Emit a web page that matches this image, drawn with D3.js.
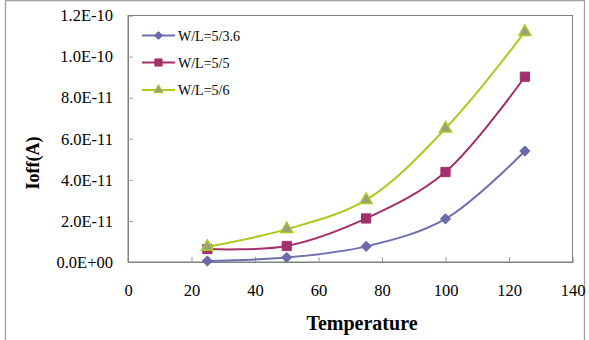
<!DOCTYPE html>
<html><head><meta charset="utf-8">
<script src="https://cdn.jsdelivr.net/npm/d3@7"></script>
<style>body{margin:0;background:#fff}svg{display:block}</style>
</head><body>
<script>
const temps = [25, 50, 75, 100, 125];
const seriesNames = ["W/L=5/3.6", "W/L=5/5", "W/L=5/6"];
const ioff_36 = [0.05e-11, 0.22e-11, 0.76e-11, 2.1e-11, 5.4e-11];
const ioff_5 = [0.63e-11, 0.78e-11, 2.12e-11, 4.38e-11, 9.02e-11];
const ioff_6 = [0.74e-11, 1.6e-11, 3.02e-11, 6.5e-11, 11.2e-11];
const xTicks = [0, 20, 40, 60, 80, 100, 120, 140];
const yTicks = [0, 2e-11, 4e-11, 6e-11, 8e-11, 1e-10, 1.2e-10];
const yTickLabels = ["0.0E+00", "2.0E-11", "4.0E-11", "6.0E-11", "8.0E-11", "1.0E-10", "1.2E-10"];

const W = 589, H = 340;
const FONT = '"Liberation Serif", "Times New Roman", serif';
const svg = d3.select("body").append("svg").attr("width", W).attr("height", H);

// outer border
svg.append("path").attr("d", `M5.5,345V0.5H584.5V345`).attr("fill", "none").attr("stroke", "#a0a0a0").attr("stroke-width", 1.3);

const L = 128, R = 572.5, T = 15.5, B = 262;
const x = d3.scaleLinear().domain([0, 140]).range([L, R]);
const y = d3.scaleLinear().domain([0, 1.2e-10]).range([B, T]);

// plot frame
svg.append("rect").attr("x", L).attr("y", T).attr("width", R - L).attr("height", B - T)
  .attr("fill", "none").attr("stroke", "#808080").attr("stroke-width", 1);

// axes with inward ticks
const xAxis = svg.append("g").attr("transform", `translate(0,${B})`)
  .call(d3.axisBottom(x).tickValues(xTicks).tickSize(-5).tickPadding(22).tickFormat(d3.format("d")));
const yAxis = svg.append("g").attr("transform", `translate(${L},0)`)
  .call(d3.axisLeft(y).tickValues(yTicks).tickSize(-5).tickPadding(15).tickFormat((d, i) => yTickLabels[i]));
[xAxis, yAxis].forEach(g => {
  g.attr("font-family", null).attr("font-size", null);
  g.select(".domain").attr("stroke", "#808080");
  g.selectAll(".tick line").attr("stroke", "#a0a0a0");
  g.selectAll("text").style("font-family", FONT).style("font-size", "16.5px").attr("fill", "#000");
});
xAxis.selectAll(".tick").filter(d => d === 0 || d === 140).select("line").remove();
yAxis.selectAll(".tick").filter((d, i) => i === 0 || i === yTicks.length - 1).select("line").remove();

// axis titles
svg.append("text").attr("x", 362).attr("y", 330).attr("text-anchor", "middle")
  .style("font-family", FONT).style("font-weight", "bold").style("font-size", "20px").text("Temperature");
svg.append("text").attr("transform", "translate(39,163) rotate(-90)").attr("text-anchor", "middle")
  .style("font-family", FONT).style("font-weight", "bold").style("font-size", "18px").text("Ioff(A)");

const series = [
  {name: seriesNames[0], vals: ioff_36, line: "#6f6fb0", fill: "#6a6aae", marker: "diamond"},
  {name: seriesNames[1], vals: ioff_5, line: "#a3306a", fill: "#a3306a", marker: "square"},
  {name: seriesNames[2], vals: ioff_6, line: "#a8cc1e", fill: "#9c9c86", marker: "triangle"}
];
const diamond = {draw(ctx, s) { const r = Math.sqrt(s / 2); ctx.moveTo(0, -r); ctx.lineTo(r, 0); ctx.lineTo(0, r); ctx.lineTo(-r, 0); ctx.closePath(); }};
const sym = {diamond: diamond, square: d3.symbolSquare, triangle: d3.symbolTriangle};
const size = {diamond: 52, square: 85, triangle: 62};

const line = d3.line().x(d => x(d[0])).y(d => y(d[1])).curve(d3.curveCatmullRom.alpha(0.5));

series.forEach(s => {
  const pts = temps.map((t, i) => [t, s.vals[i]]);
  svg.append("path").attr("d", line(pts)).attr("fill", "none").attr("stroke", s.line).attr("stroke-width", 2);
  svg.selectAll(null).data(pts).enter().append("path")
    .attr("d", d3.symbol().type(sym[s.marker]).size(size[s.marker]))
    .attr("transform", d => `translate(${x(d[0])},${y(d[1])})`)
    .attr("fill", s.fill).attr("stroke", s.marker === "triangle" ? s.line : s.fill)
    .attr("stroke-width", s.marker === "triangle" ? 1.5 : 1);
});

// legend
const legY = [35.5, 62.5, 90];
series.forEach((s, i) => {
  const g = svg.append("g").attr("transform", `translate(0,${legY[i]})`);
  g.append("line").attr("x1", 142).attr("x2", 175).attr("y1", 0).attr("y2", 0).attr("stroke", s.line).attr("stroke-width", 2);
  g.append("path").attr("d", d3.symbol().type(sym[s.marker]).size(size[s.marker] * 0.6))
    .attr("transform", "translate(158.5,0)").attr("fill", s.fill)
    .attr("stroke", s.marker === "triangle" ? s.line : s.fill);
  g.append("text").attr("x", 178).attr("y", 5).style("font-family", FONT).style("font-size", "14px").text(s.name);
});
</script>
</body></html>
